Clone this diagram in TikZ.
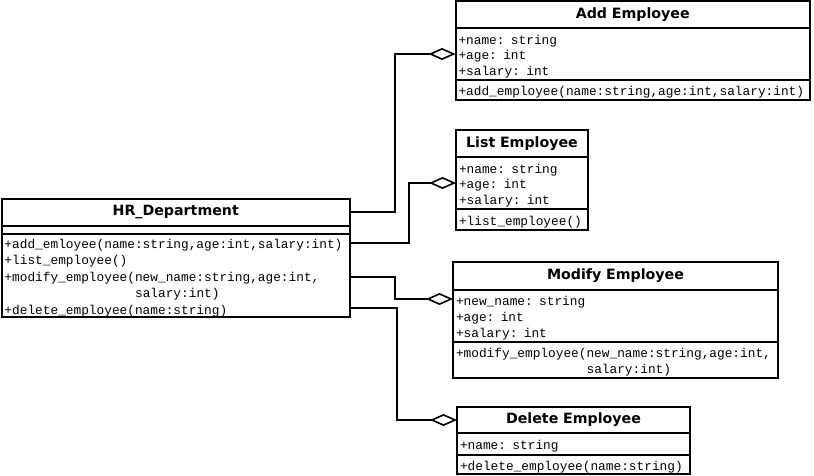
\documentclass[tikz,border=0pt]{standalone}
\usepackage{fontspec}
\usetikzlibrary{arrows.meta,calc}
\newfontfamily\ttlfont{DejaVu Sans}
\newfontfamily\monofont{Liberation Mono}
\begin{document}
\begin{tikzpicture}[x=1pt,y=-1pt,
  box/.style={draw, line width=2pt, anchor=north west, outer sep=0pt, inner xsep=3pt, inner ysep=0pt},
  ttl/.style={box, align=center, font=\ttlfont\bfseries\fontsize{14.2}{17}\selectfont},
  cmp/.style={box, align=left, font=\monofont\fontsize{12.8}{15.6}\selectfont, execute at begin node={\rule{0pt}{14pt}}},
  conn/.style={line width=2pt, -{Diamond[open,length=27pt,width=12pt,line width=1.6pt]}}]
\fill[white] (0,0) rectangle (814,476);
\useasboundingbox (0,0) rectangle (814,476);
% HR_Department
\node[ttl, text width=342.5pt, minimum height=27.5pt] (hrT) at (1.5,198.5) {HR\_Department};
\node[box, minimum width=348.5pt, minimum height=8pt] (hrA) at (hrT.south west) {};
\node[cmp, text width=342.5pt, minimum height=83pt, font=\monofont\fontsize{12.8}{16.5}\selectfont] (hrM) at (hrA.south west)
  {+add\_emloyee(name:string,age:int,salary:int)\\+list\_employee()\\+modify\_employee(new\_name:string,age:int,\\\phantom{+modify\_employee(}salary:int)\\+delete\_employee(name:string)};
% Add Employee
\node[ttl, text width=348.5pt, minimum height=26.5pt] (addT) at (455.5,1.5) {Add Employee};
\node[cmp, text width=348.5pt, minimum height=52pt] (addA) at (addT.south west) {+name: string\\+age: int\\+salary: int};
\node[cmp, text width=348.5pt, minimum height=20pt] (addM) at (addA.south west) {+add\_employee(name:string,age:int,salary:int)};
% List Employee
\node[ttl, text width=126pt, minimum height=27pt] (lstT) at (456,130) {List Employee};
\node[cmp, text width=126pt, minimum height=52pt] (lstA) at (lstT.south west) {+name: string\\+age: int\\+salary: int};
\node[cmp, text width=126pt, minimum height=21pt] (lstM) at (lstA.south west) {+list\_employee()};
% Modify Employee
\node[ttl, text width=319pt, minimum height=28pt] (modT) at (453,262) {Modify Employee};
\node[cmp, text width=319pt, minimum height=52pt, font=\monofont\fontsize{12.8}{16}\selectfont] (modA) at (modT.south west) {+new\_name: string\\+age: int\\+salary: int};
\node[cmp, text width=319pt, minimum height=36pt, font=\monofont\fontsize{12.8}{16}\selectfont] (modM) at (modA.south west) {+modify\_employee(new\_name:string,age:int,\\\phantom{+modify\_employee(}salary:int)};
% Delete Employee
\node[ttl, text width=227pt, minimum height=26pt] (delT) at (457,407) {Delete Employee};
\node[cmp, text width=227pt, minimum height=22pt] (delA) at (delT.south west) {+name: string};
\node[cmp, text width=227pt, minimum height=19pt] (delM) at (delA.south west) {+delete\_employee(name:string)};
% connector end points
\coordinate (hr1) at ($(hrM.north east)+(0,9)$);
\coordinate (hr2) at ($(hrM.north east)+(0,43)$);
\coordinate (hr3) at ($(hrM.north east)+(0,74)$);
\coordinate (modD) at ($(modA.north west)+(0,9)$);
% connectors
\draw[conn] (hrT.east) -- ++(45,0) |- (addA.west);
\draw[conn] (hr1) -- ++(59,0) |- (lstA.west);
\draw[conn] (hr2) -- ++(45,0) |- (modD);
\draw[conn] (hr3) -- ++(47,0) |- (delT.west);
\end{tikzpicture}
\end{document}
